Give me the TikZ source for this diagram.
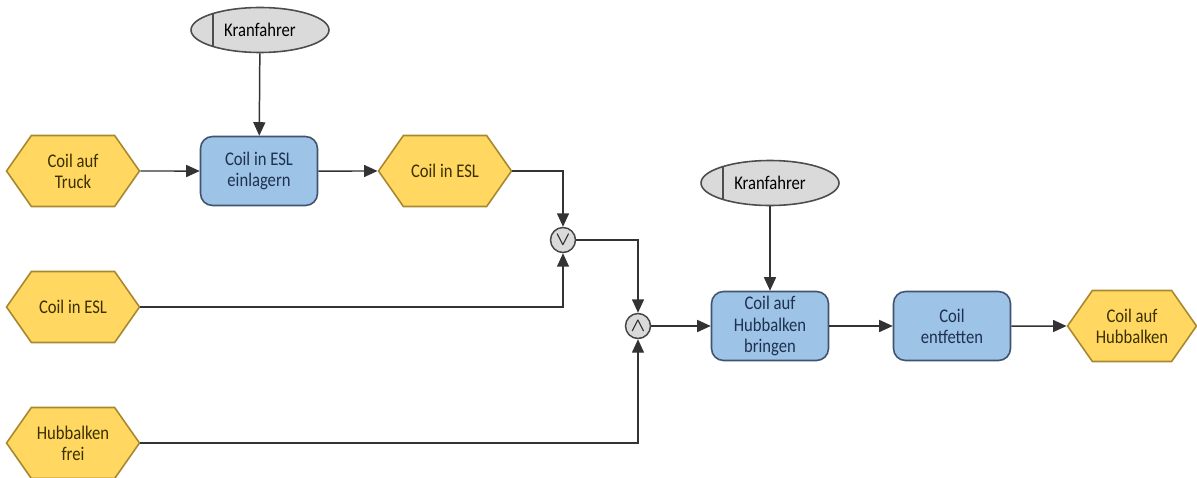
\documentclass[tikz,border=0pt]{standalone}
\usepackage{amsmath}
\usepackage{fontspec}
\setmainfont{Carlito}[FakeStretch=0.86]
\usepackage{tikz}
\usetikzlibrary{arrows.meta}
\usetikzlibrary{shapes.symbols,shapes.geometric}
\definecolor{evfill}{HTML}{FFD761}
\definecolor{evline}{HTML}{A8882E}
\definecolor{evtext}{HTML}{3B3000}
\definecolor{fnfill}{HTML}{9DC3E6}
\definecolor{fnline}{HTML}{41546F}
\definecolor{fntext}{HTML}{1F3050}
\definecolor{orgfill}{HTML}{DADADA}
\definecolor{orgline}{HTML}{4D4D4D}
\definecolor{conline}{HTML}{333333}
\tikzset{
 >={Triangle[length=2.7mm,width=2.4mm]},
 every node/.style={font=\fontsize{11}{12}\selectfont,align=center},
 every edge/.style={draw=conline,line width=0.85pt},
 hv/.style={to path={-| (\tikztotarget)}},
 event/.style={shape=signal,signal to=west and east,signal pointer angle=110,
   fill=evfill,draw=evline,line width=0.9pt,minimum width=2.66cm,minimum height=1.42cm,
   inner sep=0pt,text=evtext},
 func/.style={shape=rectangle,rounded corners=0.24cm,fill=fnfill,draw=fnline,line width=0.9pt,
   minimum width=2.34cm,minimum height=1.38cm,inner sep=0pt,text=fntext},
 orgunit/.style={shape=ellipse,fill=orgfill,draw=orgline,line width=0.9pt,
   minimum width=2.76cm,minimum height=0.9cm,inner sep=0pt,
   path picture={\draw[orgline,line width=0.9pt]
     ([xshift=0.44cm]path picture bounding box.north west) --
     ([xshift=0.44cm]path picture bounding box.south west);}},
 conn/.style={shape=circle,fill=orgfill,draw=gray!55!black,line width=0.85pt,
   minimum size=0.5cm,inner sep=0pt,text=black!85}
}
\begin{document}
\begin{tikzpicture}[x=0.02cm,y=-0.02cm]
\useasboundingbox (0,0) rectangle (1197,477);

% upper branch
\path (260,30) node[name=kran1,orgunit] {Kranfahrer};
\path (73,171) node[name=truck,event] {Coil auf\\Truck};
\path (259,171) node[name=einl,func] {Coil in ESL\\einlagern};
\path (445,171) node[name=esl1,event] {Coil in ESL};

% inputs on the left
\path (73,307) node[name=esl2,event] {Coil in ESL};
\path (73,443) node[name=frei,event] {Hubbalken\\frei};

% operators
\path (563,240) node[name=or,conn] {$\boldsymbol{\vee}$};
\path (638,326) node[name=and,conn] {$\boldsymbol{\wedge}$};

% right part
\path (770,183) node[name=kran2,orgunit] {Kranfahrer};
\path (770,326) node[name=bring,func] {Coil auf\\Hubbalken\\bringen};
\path (952,326) node[name=entf,func] {Coil\\entfetten};
\path (1132,326) node[name=hub,event,minimum width=2.58cm] {Coil auf\\Hubbalken};

\path[->] (kran1) edge (einl);
\path[->] (truck) edge (einl);
\path[->] (einl) edge (esl1);
\path[->] (esl1) edge[hv] (or);
\path[->] (esl2) edge[hv] (or);
\path[->] (or) edge[hv] (and);
\path[->] (frei) edge[hv] (and);
\path[->] (and) edge (bring);
\path[->] (kran2) edge (bring);
\path[->] (bring) edge (entf);
\path[->] (entf) edge (hub);
\end{tikzpicture}
\end{document}
